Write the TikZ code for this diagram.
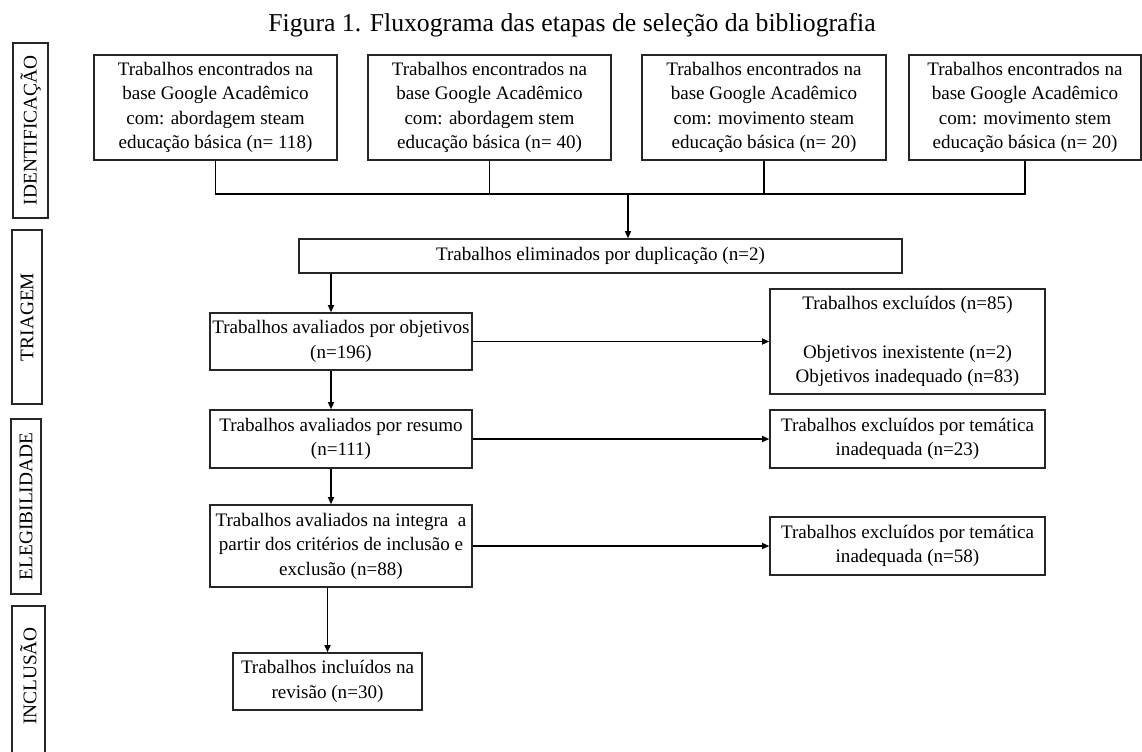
\documentclass[tikz,border=0pt]{standalone}
\usepackage{fontspec}
\setmainfont{Liberation Serif}
\usetikzlibrary{arrows.meta}
\begin{document}
\begin{tikzpicture}[x=0.75pt,y=-0.75pt,
  box/.style={draw=black!85,line width=1pt,inner sep=0pt,align=center,
    font=\fontsize{14.3}{18.4}\selectfont},
  side/.style={draw=black!85,line width=1pt,inner sep=0pt},
  sidetext/.style={rotate=90,font=\fontsize{14.5}{16}\selectfont},
  conn/.style={line width=1.3pt,black},
  arr/.style={conn,-{Triangle[length=5.5pt,width=4.5pt]}}]
\useasboundingbox (0,0) rectangle (1142,751);
% title
\node[font=\fontsize{19.3}{22}\selectfont] (title) at (572,25) {Figura 1. Fluxograma das etapas de seleção da bibliografia};
% side labels
\node[side,minimum width=35*0.75pt,minimum height=175*0.75pt] (sid) at (30.5,130.5) {};
\node[sidetext] (tid) at (sid.center) {IDENTIFICAÇÃO};
\node[side,minimum width=30*0.75pt,minimum height=174*0.75pt] (str) at (27,317) {};
\node[sidetext] (ttr) at (str.center) {TRIAGEM};
\node[side,minimum width=30*0.75pt,minimum height=175*0.75pt] (sel) at (26,506.5) {};
\node[sidetext] (tel) at (sel.center) {ELEGIBILIDADE};
\draw[draw=black!85,line width=1pt] (12,753) -- (12,606) -- (45,606) -- (45,753);
\node[sidetext] (tin) at (28.5,676) {INCLUSÃO};
% top boxes
\node[box,minimum width=243*0.75pt,minimum height=105*0.75pt] (b1) at (215.5,107.5)
 {Trabalhos encontrados na\\base Google Acadêmico\\com: abordagem steam\\educação básica (n= 118)};
\node[box,minimum width=243*0.75pt,minimum height=105*0.75pt] (b2) at (489.5,107.5)
 {Trabalhos encontrados na\\base Google Acadêmico\\com: abordagem stem\\educação básica (n= 40)};
\node[box,minimum width=244*0.75pt,minimum height=105*0.75pt] (b3) at (764,107.5)
 {Trabalhos encontrados na\\base Google Acadêmico\\com: movimento steam\\educação básica (n= 20)};
\node[box,minimum width=232*0.75pt,minimum height=105*0.75pt] (b4) at (1025,107.5)
 {Trabalhos encontrados na\\base Google Acadêmico\\com: movimento stem\\educação básica (n= 20)};
% flow
\node[box,minimum width=603*0.75pt,minimum height=34*0.75pt] (dup) at (600.5,256)
 {Trabalhos eliminados por duplicação (n=2)};
\node[box,minimum width=262*0.75pt,minimum height=57*0.75pt] (obj) at (341,341.5)
 {Trabalhos avaliados por objetivos\\(n=196)};
\node[box,minimum width=262*0.75pt,minimum height=58*0.75pt] (res) at (341,439)
 {Trabalhos avaliados por resumo\\(n=111)};
\node[box,minimum width=262*0.75pt,minimum height=82*0.75pt] (int) at (341,546)
 {Trabalhos avaliados na integra\ \ a\\partir dos critérios de inclusão e\\exclusão (n=88)};
\node[box,minimum width=189*0.75pt,minimum height=57*0.75pt] (inc) at (327.5,681.5)
 {Trabalhos incluídos na\\revisão (n=30)};
\node[box,minimum width=275*0.75pt,minimum height=105*0.75pt] (e85) at (907.5,341.5)
 {Trabalhos excluídos (n=85)\\[18.4pt]Objetivos inexistente (n=2)\\Objetivos inadequado (n=83)};
\node[box,minimum width=275*0.75pt,minimum height=58*0.75pt] (e23) at (907.5,439)
 {Trabalhos excluídos por temática\\inadequada (n=23)};
\node[box,minimum width=275*0.75pt,minimum height=58*0.75pt] (e58) at (907.5,546)
 {Trabalhos excluídos por temática\\inadequada (n=58)};
% connectors
\coordinate (hl) at (628,194);
\draw[conn] (b1.south) |- (b4.south |- hl) -- (b4.south);
\draw[conn] (b2.south) -- (b2.south |- hl);
\draw[conn] (b3.south) -- (b3.south |- hl);
\draw[arr] (hl) -- (hl |- dup.north);
\draw[arr] ([xshift=-7.5pt]obj.north |- dup.south) -- ([xshift=-7.5pt]obj.north);
\draw[arr] ([xshift=-7.5pt]obj.south) -- ([xshift=-7.5pt]res.north);
\draw[arr] ([xshift=-7.5pt]res.south) -- ([xshift=-7.5pt]int.north);
\draw[arr] (inc.north |- int.south) -- (inc.north);
\draw[arr] (obj.east) -- (e85.west);
\draw[arr] (res.east) -- (e23.west);
\draw[arr] (int.east) -- (e58.west);
\end{tikzpicture}
\end{document}
